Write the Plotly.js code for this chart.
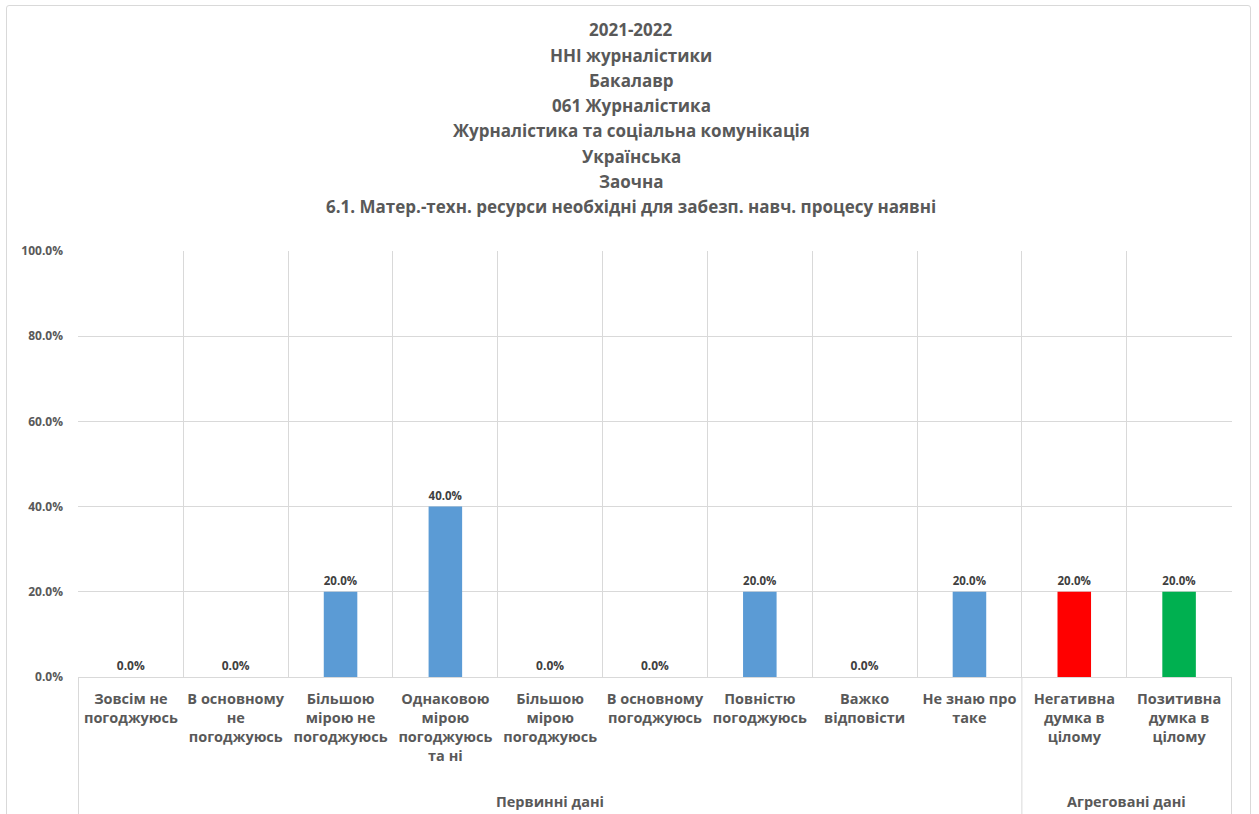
<!DOCTYPE html>
<html>
<head>
<meta charset="utf-8">
<script src="https://cdn.plot.ly/plotly-3.0.1.min.js"></script>
<style>
html,body{margin:0;padding:0;background:#fff;}
#wrap{position:relative;width:1259px;height:814px;overflow:hidden;}
#frame{position:absolute;left:6px;top:5px;width:1245px;height:900px;border:1px solid #d9d9d9;border-radius:3px;box-sizing:border-box;pointer-events:none;}
#chart{position:absolute;left:0;top:0;width:1259px;height:814px;}
</style>
</head>
<body>
<div id="wrap"><div id="chart"></div><div id="frame"></div></div>
<script>
var titleLines = [
  "2021-2022",
  "ННІ журналістики",
  "Бакалавр",
  "061 Журналістика",
  "Журналістика та соціальна комунікація",
  "Українська",
  "Заочна",
  "6.1. Матер.-техн. ресурси необхідні для забезп. навч. процесу наявні"
];
var groups = [
  "Первинні дані","Первинні дані","Первинні дані","Первинні дані","Первинні дані",
  "Первинні дані","Первинні дані","Первинні дані","Первинні дані",
  "Агреговані дані","Агреговані дані"
];
var categories = [
  "Зовсім не<br>погоджуюсь",
  "В основному<br>не<br>погоджуюсь",
  "Більшою<br>мірою не<br>погоджуюсь",
  "Однаковою<br>мірою<br>погоджуюсь<br>та ні",
  "Більшою<br>мірою<br>погоджуюсь",
  "В основному<br>погоджуюсь",
  "Повністю<br>погоджуюсь",
  "Важко<br>відповісти",
  "Не знаю про<br>таке",
  "Негативна<br>думка в<br>цілому",
  "Позитивна<br>думка в<br>цілому"
];
var values = [0.0, 0.0, 0.2, 0.4, 0.0, 0.0, 0.2, 0.0, 0.2, 0.2, 0.2];

var FONT = "'Open Sans', 'Noto Sans', sans-serif";
var GREY = "#595959";
var LINE = "#d9d9d9";
var colors = categories.map(function(c, i){
  if (groups[i] === "Агреговані дані") return i === categories.length - 2 ? "#FF0000" : "#00B050";
  return "#5B9BD5";
});

var trace = {
  type: "bar",
  x: categories,
  y: values,
  marker: {color: colors},
  texttemplate: "<b>%{y:.1%}</b>",
  textposition: "outside",
  cliponaxis: false,
  textfont: {family: FONT, size: 12, color: "#404040"},
  hoverinfo: "skip"
};

var annotations = titleLines.map(function(t, i){
  var ypx = 30 + i * 25.2;
  return {
    text: "<b>" + t + "</b>",
    xref: "paper", yref: "paper",
    x: (631 - 78) / 1154, y: (677 - ypx) / 426,
    xanchor: "center", yanchor: "middle",
    showarrow: false,
    font: {family: FONT, size: 17, color: GREY}
  };
});

// group labels and dividers, placed by category index on the x axis
var shapes = [];
var start = 0;
for (var i = 1; i <= groups.length; i++) {
  if (i === groups.length || groups[i] !== groups[start]) {
    annotations.push({
      text: "<b>" + groups[start] + "</b>",
      xref: "x", yref: "paper",
      x: (start + i - 1) / 2, y: (677 - 801) / 426,
      xanchor: "center", yanchor: "middle",
      showarrow: false,
      font: {family: FONT, size: 14.5, color: GREY}
    });
    shapes.push({type: "line", xref: "x", yref: "paper", x0: start - 0.5, x1: start - 0.5,
      y0: 0, y1: -0.5, line: {color: LINE, width: 1}});
    start = i;
  }
}
shapes.push({type: "line", xref: "x", yref: "paper", x0: groups.length - 0.5, x1: groups.length - 0.5,
  y0: 0, y1: -0.5, line: {color: LINE, width: 1}});

var layout = {
  width: 1259, height: 814,
  margin: {l: 78, r: 27, t: 251, b: 137, pad: 0},
  paper_bgcolor: "#ffffff", plot_bgcolor: "#ffffff",
  showlegend: false,
  bargap: 0.68,
  font: {family: FONT, color: GREY},
  annotations: annotations,
  shapes: shapes,
  xaxis: {
    type: "category",
    tickson: "boundaries",
    showgrid: true, gridcolor: LINE, gridwidth: 1,
    showline: true, linecolor: LINE, linewidth: 1,
    ticks: "",
    tickangle: 0,
    tickfont: {family: FONT, size: 14.5, color: GREY, weight: "bold"},
    ticklabelstandoff: 9,
    fixedrange: true
  },
  yaxis: {
    range: [0, 1], dtick: 0.2, tickformat: ".1%",
    showgrid: true, gridcolor: LINE, gridwidth: 1,
    zeroline: true, zerolinecolor: LINE,
    showline: false, ticks: "",
    tickfont: {family: FONT, size: 12, color: GREY, weight: "bold"},
    ticklabelstandoff: 14,
    fixedrange: true
  }
};

Plotly.newPlot("chart", [trace], layout, {displayModeBar: false, staticPlot: true});
</script>
</body>
</html>
